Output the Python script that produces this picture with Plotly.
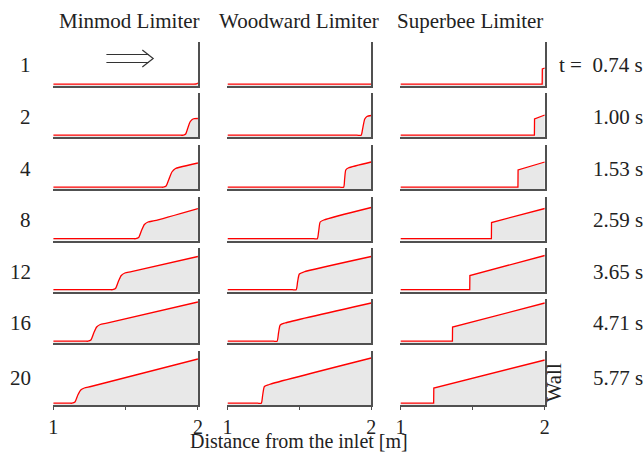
import plotly.graph_objects as go

W, H = 644, 453

limiters = ["Minmod Limiter", "Woodward Limiter", "Superbee Limiter"]
row_labels = ["1", "2", "4", "8", "12", "16", "20"]
times = ["0.74", "1.00", "1.53", "2.59", "3.65", "4.71", "5.77"]
x_ticks = [1, 1.5, 2]
x_tick_text = ["1", "", "2"]

# Flow depth profiles (arbitrary depth units) along the channel, per time step
minmod_x = [
    [1, 1.95, 1.97, 1.99, 2.0],
    [1, 1.88, 1.90, 1.915, 1.93, 1.945, 1.96, 1.975, 2.0],
    [1, 1.74, 1.76, 1.78, 1.80, 1.82, 1.845, 1.88, 2.0],
    [1, 1.55, 1.57, 1.59, 1.61, 1.63, 1.655, 1.70, 2.0],
    [1, 1.39, 1.41, 1.43, 1.45, 1.47, 1.495, 1.54, 2.0],
    [1, 1.22, 1.24, 1.26, 1.28, 1.30, 1.325, 1.37, 2.0],
    [1, 1.11, 1.13, 1.15, 1.17, 1.19, 1.215, 1.26, 2.0],
]
minmod_h = [
    [1.8, 1.8, 1.9, 2.2, 3.0],
    [1.8, 1.8, 1.8, 3, 9, 15, 17.5, 18.3, 18.5],
    [1.8, 1.8, 1.8, 3, 10, 17, 20.5, 22, 26],
    [1.8, 1.8, 1.8, 3, 10, 16, 18.5, 19.8, 32],
    [1.8, 1.8, 1.8, 3, 10, 16, 18.5, 19.8, 35],
    [1.8, 1.8, 1.8, 3, 10, 16, 18.5, 19.8, 41],
    [1.8, 1.8, 1.8, 3, 10, 15, 17, 18.5, 46],
]
woodward_x = [
    [1, 2.0],
    [1, 1.90, 1.93, 1.94, 1.955, 1.97, 2.0],
    [1, 1.78, 1.808, 1.815, 1.823, 1.84, 2.0],
    [1, 1.60, 1.625, 1.635, 1.645, 1.67, 2.0],
    [1, 1.45, 1.478, 1.488, 1.50, 1.53, 2.0],
    [1, 1.32, 1.345, 1.355, 1.367, 1.40, 2.0],
    [1, 1.21, 1.235, 1.245, 1.257, 1.29, 2.0],
]
woodward_h = [
    [1.8, 1.8],
    [1.8, 1.8, 1.8, 8, 18, 20.5, 21.5],
    [1.8, 1.8, 1.8, 10, 19, 21, 27],
    [1.8, 1.8, 1.8, 10, 18.5, 20.5, 33],
    [1.8, 1.8, 1.8, 10, 17.5, 19.5, 35],
    [1.8, 1.8, 1.8, 10, 18, 20, 40],
    [1.8, 1.8, 1.8, 10, 18.5, 20.5, 47],
]
superbee_x = [
    [1, 1.982, 1.983, 2.0],
    [1, 1.928, 1.929, 2.0],
    [1, 1.814, 1.815, 2.0],
    [1, 1.63, 1.631, 2.0],
    [1, 1.48, 1.481, 2.0],
    [1, 1.36, 1.361, 2.0],
    [1, 1.23, 1.231, 2.0],
]
superbee_h = [
    [1.8, 1.8, 17, 18],
    [1.8, 1.8, 18, 22],
    [1.8, 1.8, 19, 27],
    [1.8, 1.8, 18, 32],
    [1.8, 1.8, 16, 36],
    [1.8, 1.8, 16, 40],
    [1.8, 1.8, 17, 45],
]

profiles_x = [minmod_x, woodward_x, superbee_x]
profiles_h = [minmod_h, woodward_h, superbee_h]
shapes_of_line = ["spline", "spline", "linear"]

# layout geometry (pixels)
col_px = [(49, 196), (226, 372), (401.7, 548.3)]
row_px = [(42, 86), (93, 137), (145, 189), (196.5, 240.5),
          (247.5, 291.5), (298.5, 343), (350.5, 405)]


def px2x(p):
    return p / W


def px2y(p):
    return 1 - p / H


FAM = "Liberation Serif, Times New Roman, serif"
FONT = dict(family=FAM, size=21, color="#222")
FONT_SM = dict(family=FAM, size=20, color="#222")
AXC = "#505050"

fig = go.Figure()
layout = dict(
    width=W, height=H, margin=dict(l=0, r=0, t=0, b=0),
    paper_bgcolor="white", plot_bgcolor="white", showlegend=False,
    font=FONT,
)

idx = 0
for r in range(7):
    for c in range(3):
        idx += 1
        sx = "" if idx == 1 else str(idx)
        xa, ya = "x" + sx, "y" + sx
        fig.add_trace(go.Scatter(
            x=profiles_x[c][r], y=profiles_h[c][r], mode="lines",
            line=dict(color="#ff0000", width=1.3, shape=shapes_of_line[c], smoothing=0.6),
            fill="tozeroy", fillcolor="#e8e8e8",
            xaxis=xa, yaxis=ya, hoverinfo="skip",
        ))
        x0, x1 = col_px[c]
        y0, y1 = row_px[r]
        bottom = r == 6
        layout["xaxis" + sx] = dict(
            domain=[px2x(x0), px2x(x1)], range=[1, 2], anchor=ya,
            showline=True, linecolor=AXC, linewidth=1.6,
            showgrid=False, zeroline=False,
            ticks="outside" if bottom else "", ticklen=3, tickwidth=1, tickcolor=AXC,
            tickvals=x_ticks, ticktext=x_tick_text,
            showticklabels=bottom, tickfont=FONT_SM,
        )
        layout["yaxis" + sx] = dict(
            domain=[px2y(y1), px2y(y0)], range=[0, (y1 - y0)],
            anchor=xa, side="right", showline=True, linecolor=AXC, linewidth=1.6,
            showgrid=False, zeroline=False, ticks="", showticklabels=False,
        )

annotations = []
col_title_x = [126, 299, 472]
for c in range(3):
    annotations.append(dict(text=limiters[c], x=px2x(col_title_x[c]), y=px2y(21),
                            xref="paper", yref="paper", showarrow=False, font=FONT,
                            xanchor="center", yanchor="middle"))
label_y = [65, 117, 169, 220, 272, 323, 378]
for r in range(7):
    annotations.append(dict(text=row_labels[r], x=px2x(28), y=px2y(label_y[r]),
                            xref="paper", yref="paper", showarrow=False, font=FONT,
                            xanchor="right", yanchor="middle"))
    t = ("t =\u00a0\u00a0" + times[r] + " s") if r == 0 else (times[r] + " s")
    annotations.append(dict(text=t, x=px2x(650), y=px2y(label_y[r]),
                            xref="paper", yref="paper", showarrow=False, font=FONT,
                            xanchor="right", yanchor="middle"))
annotations.append(dict(text="Distance from the inlet [m]", x=px2x(299), y=0,
                        xref="paper", yref="paper", showarrow=False, font=FONT_SM,
                        xanchor="center", yanchor="bottom", borderpad=0))
annotations.append(dict(text="Wall", x=px2x(558), y=px2y(383), textangle=-90,
                        xref="paper", yref="paper", showarrow=False, font=FONT,
                        xanchor="center", yanchor="middle"))
layout["annotations"] = annotations

# flow direction arrow
arrow_col = "#333"
layout["shapes"] = [
    dict(type="line", xref="paper", yref="paper", x0=px2x(103), x1=px2x(146),
         y0=px2y(54.5), y1=px2y(54.5), line=dict(color=arrow_col, width=1.2)),
    dict(type="line", xref="paper", yref="paper", x0=px2x(103), x1=px2x(146),
         y0=px2y(62.5), y1=px2y(62.5), line=dict(color=arrow_col, width=1.2)),
    dict(type="path", xref="paper", yref="paper",
         path=f"M {px2x(139.5)},{px2y(50)} L {px2x(150.5)},{px2y(58.5)} L {px2x(139.5)},{px2y(67)}",
         line=dict(color=arrow_col, width=1.2)),
]

fig.update_layout(**layout)
fig.write_html("out.html")
